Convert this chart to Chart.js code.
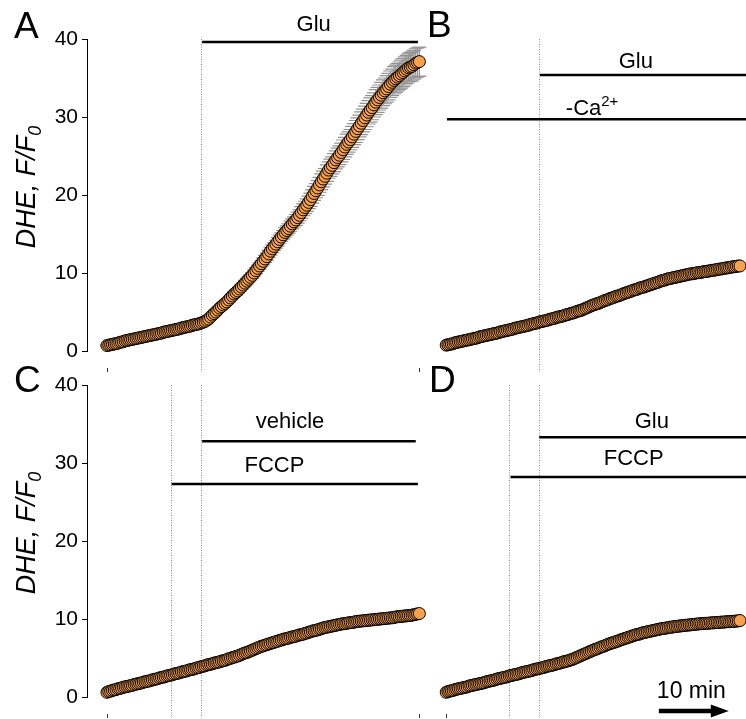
<!DOCTYPE html>
<html>
<head>
<meta charset="utf-8">
<script src="https://cdn.jsdelivr.net/npm/chart.js@4.4.1/dist/chart.umd.min.js"></script>
<style>
  body { margin: 0; background: #fff; }
  #wrap { position: relative; width: 746px; height: 719px; }
  canvas { position: absolute; }
</style>
</head>
<body>
<div id="wrap">
  <canvas id="cA" width="430" height="372" style="left:0;top:0"></canvas>
  <canvas id="cB" width="326" height="372" style="left:420px;top:0"></canvas>
  <canvas id="cC" width="430" height="372" style="left:0;top:346px"></canvas>
  <canvas id="cD" width="326" height="372" style="left:420px;top:346px"></canvas>
</div>
<script>
// sampling interval, minutes
var STEP = 0.25;

// DHE F/F0, one value every 0.25 min from t = 0 to 43 min (8 values = 2 min per row)
var valuesA = [0.7,0.75,0.8,0.85,0.9,0.95,1.0,1.1,
  1.15,1.2,1.3,1.35,1.4,1.45,1.5,1.55,
  1.6,1.65,1.7,1.75,1.8,1.85,1.9,1.95,
  2.0,2.05,2.1,2.15,2.2,2.25,2.3,2.4,
  2.45,2.5,2.55,2.6,2.65,2.7,2.75,2.8,
  2.85,2.95,3.0,3.05,3.1,3.15,3.2,3.3,
  3.35,3.4,3.45,3.5,3.6,3.7,3.8,3.95,
  4.1,4.35,4.6,4.8,5.0,5.25,5.5,5.7,
  5.9,6.1,6.3,6.55,6.8,7.05,7.3,7.5,
  7.7,7.95,8.2,8.45,8.7,8.95,9.2,9.45,
  9.7,10.0,10.3,10.6,10.9,11.2,11.5,11.8,
  12.1,12.45,12.8,13.1,13.4,13.7,14.0,14.3,
  14.6,14.9,15.2,15.45,15.7,16.0,16.3,16.55,
  16.8,17.1,17.4,17.75,18.1,18.4,18.7,19.05,
  19.4,19.8,20.2,20.55,20.9,21.3,21.7,22.05,
  22.4,22.8,23.2,23.5,23.8,24.15,24.5,24.8,
  25.1,25.45,25.8,26.15,26.5,26.8,27.1,27.45,
  27.8,28.15,28.5,28.85,29.2,29.55,29.9,30.25,
  30.6,30.9,31.2,31.55,31.9,32.2,32.5,32.8,
  33.1,33.35,33.6,33.9,34.2,34.45,34.7,34.9,
  35.1,35.3,35.5,35.7,35.9,36.1,36.3,36.4,
  36.5,36.7,36.9,37.0,37.1];
// SEM of panel A
var errorsA = [0.05,0.05,0.05,0.05,0.05,0.05,0.05,0.05,
  0.05,0.05,0.05,0.05,0.05,0.05,0.05,0.05,
  0.05,0.05,0.05,0.05,0.05,0.05,0.05,0.05,
  0.05,0.05,0.05,0.05,0.05,0.05,0.05,0.05,
  0.05,0.05,0.05,0.05,0.05,0.05,0.05,0.05,
  0.05,0.05,0.05,0.05,0.05,0.05,0.05,0.05,
  0.05,0.05,0.05,0.05,0.05,0.05,0.05,0.05,
  0.1,0.1,0.15,0.15,0.15,0.2,0.2,0.2,
  0.2,0.2,0.25,0.25,0.25,0.25,0.3,0.3,
  0.3,0.3,0.3,0.3,0.35,0.35,0.35,0.35,
  0.35,0.4,0.4,0.4,0.4,0.4,0.45,0.45,
  0.45,0.45,0.5,0.5,0.5,0.5,0.55,0.55,
  0.55,0.55,0.6,0.6,0.6,0.65,0.65,0.65,
  0.7,0.7,0.7,0.75,0.75,0.8,0.8,0.8,
  0.85,0.85,0.9,0.9,0.95,0.95,1.0,1.0,
  1.0,1.05,1.05,1.1,1.1,1.15,1.15,1.2,
  1.2,1.2,1.25,1.25,1.3,1.3,1.3,1.35,
  1.35,1.4,1.4,1.4,1.45,1.45,1.5,1.5,
  1.5,1.55,1.55,1.55,1.6,1.6,1.6,1.65,
  1.65,1.65,1.7,1.7,1.7,1.7,1.75,1.75,
  1.75,1.75,1.8,1.8,1.8,1.8,1.8,1.85,
  1.85,1.85,1.85,1.85,1.85];
var valuesB = [0.75,0.8,0.85,0.9,0.95,1.05,1.1,1.15,
  1.2,1.25,1.3,1.35,1.4,1.45,1.5,1.55,
  1.6,1.65,1.7,1.8,1.85,1.9,1.95,2.0,
  2.05,2.1,2.15,2.2,2.25,2.3,2.35,2.45,
  2.5,2.55,2.6,2.65,2.7,2.75,2.8,2.9,
  2.95,3.0,3.05,3.1,3.15,3.2,3.25,3.3,
  3.4,3.45,3.5,3.55,3.6,3.7,3.75,3.8,
  3.85,3.9,3.95,4.05,4.1,4.15,4.2,4.3,
  4.35,4.4,4.45,4.5,4.6,4.65,4.7,4.8,
  4.85,4.9,5.0,5.1,5.15,5.2,5.3,5.4,
  5.5,5.6,5.7,5.8,5.9,5.95,6.05,6.1,
  6.2,6.3,6.4,6.5,6.55,6.65,6.75,6.8,
  6.9,7.0,7.05,7.1,7.2,7.3,7.4,7.45,
  7.55,7.6,7.7,7.8,7.85,7.9,8.0,8.1,
  8.15,8.2,8.3,8.35,8.45,8.5,8.6,8.65,
  8.75,8.8,8.9,9.0,9.05,9.1,9.2,9.25,
  9.3,9.35,9.4,9.45,9.5,9.55,9.6,9.65,
  9.7,9.75,9.8,9.85,9.9,9.9,9.95,10.0,
  10.05,10.05,10.1,10.15,10.2,10.2,10.25,10.3,
  10.35,10.35,10.4,10.45,10.5,10.5,10.55,10.6,
  10.65,10.65,10.7,10.75,10.8,10.8,10.85,10.9,
  10.9,10.95,11.0,11.0,11.05];
var valuesC = [0.6,0.7,0.75,0.85,0.9,0.95,1.05,1.1,
  1.15,1.25,1.3,1.35,1.4,1.45,1.5,1.6,
  1.65,1.7,1.75,1.8,1.9,1.95,2.0,2.05,
  2.1,2.2,2.25,2.3,2.35,2.45,2.5,2.55,
  2.6,2.7,2.75,2.8,2.85,2.95,3.0,3.05,
  3.1,3.2,3.25,3.3,3.35,3.45,3.5,3.55,
  3.6,3.7,3.75,3.8,3.9,3.95,4.0,4.1,
  4.15,4.2,4.25,4.35,4.4,4.45,4.5,4.6,
  4.65,4.7,4.8,4.9,4.95,5.05,5.1,5.2,
  5.25,5.35,5.45,5.55,5.65,5.7,5.8,5.9,
  6.0,6.1,6.2,6.3,6.4,6.5,6.55,6.65,
  6.7,6.8,6.85,6.95,7.0,7.1,7.15,7.25,
  7.3,7.4,7.45,7.5,7.55,7.65,7.7,7.75,
  7.8,7.9,7.95,8.0,8.05,8.15,8.2,8.3,
  8.35,8.45,8.5,8.55,8.6,8.7,8.75,8.85,
  8.9,8.95,9.0,9.05,9.1,9.15,9.2,9.25,
  9.3,9.35,9.4,9.4,9.45,9.5,9.55,9.55,
  9.6,9.65,9.7,9.7,9.75,9.75,9.8,9.8,
  9.85,9.85,9.9,9.9,9.95,9.95,10.0,10.0,
  10.05,10.05,10.1,10.1,10.15,10.15,10.2,10.25,
  10.3,10.3,10.35,10.35,10.4,10.4,10.45,10.45,
  10.5,10.55,10.6,10.65,10.7];
var valuesD = [0.6,0.7,0.75,0.8,0.85,0.95,1.0,1.05,
  1.1,1.15,1.2,1.25,1.3,1.4,1.45,1.5,
  1.55,1.6,1.65,1.7,1.75,1.8,1.85,1.95,
  2.0,2.05,2.1,2.15,2.2,2.3,2.35,2.4,
  2.45,2.5,2.55,2.6,2.7,2.75,2.8,2.85,
  2.9,2.95,3.0,3.1,3.15,3.2,3.25,3.3,
  3.35,3.4,3.5,3.55,3.6,3.65,3.7,3.75,
  3.8,3.9,3.95,4.0,4.05,4.1,4.15,4.25,
  4.3,4.35,4.4,4.5,4.55,4.6,4.65,4.75,
  4.8,4.9,5.0,5.1,5.2,5.3,5.4,5.5,
  5.6,5.7,5.8,5.9,6.0,6.1,6.15,6.25,
  6.35,6.45,6.5,6.6,6.7,6.8,6.85,6.95,
  7.0,7.1,7.15,7.25,7.35,7.4,7.5,7.55,
  7.65,7.7,7.8,7.85,7.95,8.0,8.05,8.1,
  8.2,8.25,8.3,8.35,8.4,8.45,8.5,8.55,
  8.6,8.65,8.7,8.75,8.8,8.8,8.85,8.9,
  8.95,8.95,9.0,9.05,9.05,9.1,9.1,9.15,
  9.15,9.2,9.2,9.25,9.25,9.3,9.3,9.35,
  9.35,9.4,9.4,9.4,9.45,9.45,9.45,9.5,
  9.5,9.5,9.55,9.55,9.55,9.6,9.6,9.6,
  9.65,9.65,9.65,9.7,9.7,9.7,9.75,9.75,
  9.8,9.8,9.85,9.85,9.9];

var yTicks = [0, 10, 20, 30, 40];
var yTitle = 'DHE, F/F';
var yTitleSub = '0';

var FONT = '"Liberation Sans", Arial, sans-serif';
var ORANGE = '#f9a14a';

function drawParts(ctx, parts, x, y, align) {
  // parts: [text, isSuperscript]
  var w = 0;
  parts.forEach(function(p){
    ctx.font = (p[1] ? '15px ' : '22px ') + FONT;
    w += ctx.measureText(p[0]).width;
  });
  var cx = align === 'left' ? x : x - w / 2;
  ctx.textAlign = 'left';
  ctx.textBaseline = 'alphabetic';
  parts.forEach(function(p){
    ctx.font = (p[1] ? '15px ' : '22px ') + FONT;
    ctx.fillText(p[0], cx, p[1] ? y - 9 : y);
    cx += ctx.measureText(p[0]).width;
  });
}

function makePanel(id, values, cfg) {
  var points = values.map(function(v, i){ return {x: i * STEP, y: v}; });
  var deco = {
    id: 'deco',
    beforeDatasetsDraw: function(chart) {
      var ctx = chart.ctx, xs = chart.scales.x, ys = chart.scales.y, area = chart.chartArea;
      ctx.save();
      // dotted markers of solution changes
      ctx.strokeStyle = '#8c8c8c';
      ctx.lineWidth = 1;
      ctx.setLineDash([1, 1.5]);
      cfg.vlines.forEach(function(t){
        var px = Math.round(xs.getPixelForValue(t)) + 0.5;
        ctx.beginPath();
        ctx.moveTo(px, area.top);
        ctx.lineTo(px, chart.height);
        ctx.stroke();
      });
      ctx.setLineDash([]);
      // error bars
      if (cfg.errors) {
        ctx.strokeStyle = '#939393';
        ctx.lineWidth = 1.2;
        points.forEach(function(p, i){
          var e = cfg.errors[i];
          var px = xs.getPixelForValue(p.x);
          var y1 = ys.getPixelForValue(p.y + e), y2 = ys.getPixelForValue(p.y - e);
          ctx.beginPath();
          ctx.moveTo(px, y1); ctx.lineTo(px, y2);
          ctx.moveTo(px - 7, y1); ctx.lineTo(px + 7, y1);
          ctx.moveTo(px - 7, y2); ctx.lineTo(px + 7, y2);
          ctx.stroke();
        });
      }
      // end ticks of the time axis
      ctx.strokeStyle = '#333';
      ctx.lineWidth = 1;
      [0, (values.length - 1) * STEP].forEach(function(t){
        var px = Math.round(xs.getPixelForValue(t)) + 0.5;
        ctx.beginPath();
        ctx.moveTo(px, chart.height - 4);
        ctx.lineTo(px, chart.height);
        ctx.stroke();
      });
      ctx.restore();
    },
    afterDatasetsDraw: function(chart) {
      var ctx = chart.ctx, xs = chart.scales.x, ys = chart.scales.y, area = chart.chartArea;
      ctx.save();
      ctx.fillStyle = '#000';
      ctx.strokeStyle = '#000';
      // treatment bars
      ctx.lineWidth = 2.5;
      cfg.bars.forEach(function(b){
        var py = ys.getPixelForValue(b.v);
        ctx.beginPath();
        ctx.moveTo(xs.getPixelForValue(b.t0), py);
        ctx.lineTo(b.t1 == null ? chart.width : xs.getPixelForValue(b.t1), py);
        ctx.stroke();
      });
      cfg.labels.forEach(function(l){
        drawParts(ctx, l.parts, xs.getPixelForValue(l.t), ys.getPixelForValue(l.v), l.align);
      });
      // panel letter
      ctx.font = '37px ' + FONT;
      ctx.textAlign = 'left';
      ctx.textBaseline = 'alphabetic';
      ctx.fillText(cfg.letter, cfg.letterX, cfg.letterY);
      // y axis title with subscript
      if (cfg.yTitle) {
        ctx.translate(35, (area.top + area.bottom) / 2 - 8);
        ctx.rotate(-Math.PI / 2);
        ctx.font = 'italic 27px ' + FONT;
        var w1 = ctx.measureText(yTitle).width;
        ctx.font = 'italic 18px ' + FONT;
        var w2 = ctx.measureText(yTitleSub).width;
        var x0 = -(w1 + w2) / 2;
        ctx.font = 'italic 27px ' + FONT;
        ctx.fillText(yTitle, x0, 0);
        ctx.font = 'italic 18px ' + FONT;
        ctx.fillText(yTitleSub, x0 + w1, 6);
        ctx.setTransform(1, 0, 0, 1, 0, 0);
      }
      // time scale bar
      if (cfg.scaleBar) {
        var sb = cfg.scaleBar;
        var xa = xs.getPixelForValue(sb.t), xb = xs.getPixelForValue(sb.t + sb.len);
        var yb = chart.height - 7;
        ctx.lineWidth = 4.5;
        ctx.beginPath();
        ctx.moveTo(xa, yb); ctx.lineTo(xb - 14, yb);
        ctx.stroke();
        ctx.beginPath();
        ctx.moveTo(xb - 18, yb - 6.5); ctx.lineTo(xb, yb); ctx.lineTo(xb - 18, yb + 6.5);
        ctx.closePath();
        ctx.fill();
        ctx.font = '23px ' + FONT;
        ctx.textAlign = 'left';
        ctx.fillText(sb.text, xa - 2, chart.height - 20);
      }
      ctx.restore();
    }
  };

  return new Chart(document.getElementById(id), {
    type: 'scatter',
    data: {
      datasets: [{
        data: points,
        pointRadius: 6,
        pointBackgroundColor: ORANGE,
        pointBorderColor: '#000',
        pointBorderWidth: 1,
        showLine: false,
        clip: false
      }]
    },
    options: {
      responsive: false,
      animation: false,
      devicePixelRatio: 1,
      events: [],
      layout: { padding: { top: 39, bottom: 21, left: 0, right: cfg.padRight } },
      plugins: { legend: { display: false }, tooltip: { enabled: false } },
      scales: {
        x: { type: 'linear', min: -2.75, max: cfg.xMax, display: false },
        y: {
          min: 0, max: 40,
          display: cfg.yAxis,
          afterFit: function(scale){ if (cfg.yAxis) scale.width = 87; },
          afterBuildTicks: function(scale){ scale.ticks = yTicks.map(function(v){ return {value: v}; }); },
          ticks: { color: '#000', font: { family: FONT, size: 21 }, padding: 4 },
          grid: { drawOnChartArea: false, color: '#000', tickLength: 5, lineWidth: 1 },
          border: { color: '#000', width: 1 }
        }
      }
    },
    plugins: [deco]
  });
}

makePanel('cA', valuesA, {
  letter: 'A', letterX: 14, letterY: 38, yAxis: true, yTitle: true, padRight: 5, xMax: 43.5,
  errors: errorsA,
  vlines: [13.0],
  bars: [{t0: 13.1, t1: 42.8, v: 39.6}],
  labels: [{parts: [['Glu']], t: 28.45, v: 41.0}]
});
makePanel('cB', valuesB, {
  letter: 'B', letterX: 7, letterY: 37, yAxis: false, padRight: 0, xMax: 41.86,
  vlines: [13.3],
  bars: [{t0: 13.4, t1: null, v: 35.4}, {t0: 0.1, t1: null, v: 29.7}],
  labels: [{parts: [['Glu']], t: 27.1, v: 36.3},
           {parts: [['-Ca'], ['2+', true]], t: 17.1, v: 30.3, align: 'left'}]
});
makePanel('cC', valuesC, {
  letter: 'C', letterX: 14, letterY: 46, yAxis: true, yTitle: true, padRight: 5, xMax: 43.5,
  vlines: [8.75, 13.0],
  bars: [{t0: 13.1, t1: 42.5, v: 32.8}, {t0: 8.9, t1: 42.8, v: 27.3}],
  labels: [{parts: [['vehicle']], t: 25.2, v: 34.5},
           {parts: [['FCCP']], t: 23.05, v: 28.8}]
});
makePanel('cD', valuesD, {
  letter: 'D', letterX: 9, letterY: 46, yAxis: false, padRight: 0, xMax: 41.86,
  vlines: [9.0, 13.3],
  bars: [{t0: 13.3, t1: null, v: 33.3}, {t0: 9.2, t1: null, v: 28.2}],
  labels: [{parts: [['Glu']], t: 29.4, v: 34.5},
           {parts: [['FCCP']], t: 26.8, v: 29.7}],
  scaleBar: {t: 30.4, len: 10, text: '10 min'}
});
</script>
</body>
</html>
